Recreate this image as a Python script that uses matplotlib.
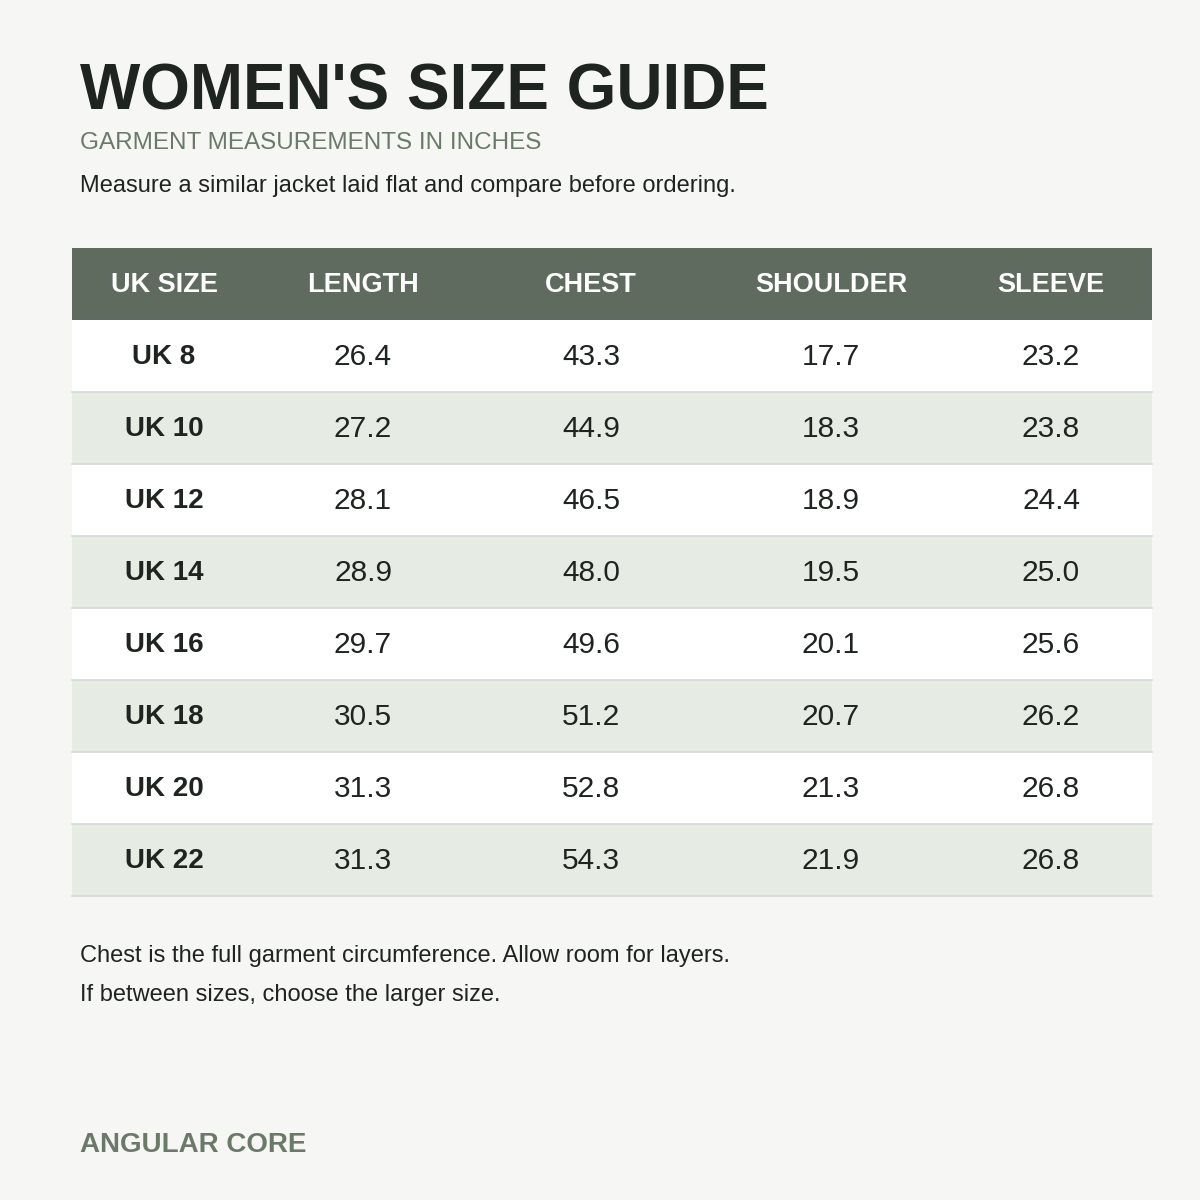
import matplotlib.pyplot as plt
from matplotlib.patches import Rectangle

plt.rcParams["font.family"] = ["Liberation Sans", "DejaVu Sans"]

title = "WOMEN'S SIZE GUIDE"
subtitle = "GARMENT MEASUREMENTS IN INCHES"
intro = "Measure a similar jacket laid flat and compare before ordering."
notes = ["Chest is the full garment circumference. Allow room for layers.",
         "If between sizes, choose the larger size."]
brand = "ANGULAR CORE"

headers = ["UK SIZE", "LENGTH", "CHEST", "SHOULDER", "SLEEVE"]
sizes = ["UK 8", "UK 10", "UK 12", "UK 14", "UK 16", "UK 18", "UK 20", "UK 22"]
length = ["26.4", "27.2", "28.1", "28.9", "29.7", "30.5", "31.3", "31.3"]
chest = ["43.3", "44.9", "46.5", "48.0", "49.6", "51.2", "52.8", "54.3"]
shoulder = ["17.7", "18.3", "18.9", "19.5", "20.1", "20.7", "21.3", "21.9"]
sleeve = ["23.2", "23.8", "24.4", "25.0", "25.6", "26.2", "26.8", "26.8"]

bg = "#f6f6f4"
green = "#5f6b5e"
alt = "#e6ebe4"
dark = "#1f2420"

fig = plt.figure(figsize=(12, 12), dpi=100, facecolor=bg)
ax = fig.add_axes([0, 0, 1, 1])
ax.set_xlim(0, 1200)
ax.set_ylim(1200, 0)
ax.axis("off")

ax.text(80, 92, title, fontsize=46, fontweight="bold", color=dark, va="center")
ax.text(80, 143, subtitle, fontsize=17.5, color="#6b7a68", va="center")
ax.text(80, 186, intro, fontsize=17, color=dark, va="center")

col_x = [164, 363, 591, 831, 1051]
left, right = 72, 1152
top, head_h, row_h = 248, 72, 72

ax.add_patch(Rectangle((left, top), right - left, head_h, color=green, lw=0))
for x, h in zip(col_x, headers):
    ax.text(x, top + head_h / 2 + 1, h, fontsize=19.5, fontweight="bold",
            color="white", ha="center", va="center")

cols = [length, chest, shoulder, sleeve]
for i, s in enumerate(sizes):
    y0 = top + head_h + i * row_h
    ax.add_patch(Rectangle((left, y0), right - left, row_h,
                           color="white" if i % 2 == 0 else alt, lw=0))
    ax.plot([left, right], [y0 + row_h, y0 + row_h], color="#d5d9d3", lw=1.2)
    yc = y0 + row_h / 2 + 1
    ax.text(col_x[0], yc, s, fontsize=20, fontweight="bold", color=dark,
            ha="center", va="center")
    for x, c in zip(col_x[1:], cols):
        ax.text(x, yc, c[i], fontsize=21.5, color=dark, ha="center", va="center")

for j, n in enumerate(notes):
    ax.text(80, 956 + j * 39, n, fontsize=17, color=dark, va="center")

ax.text(80, 1145, brand, fontsize=20, fontweight="bold", color="#6b7a68", va="center")

fig.savefig("out.png", dpi=100, facecolor=bg)
